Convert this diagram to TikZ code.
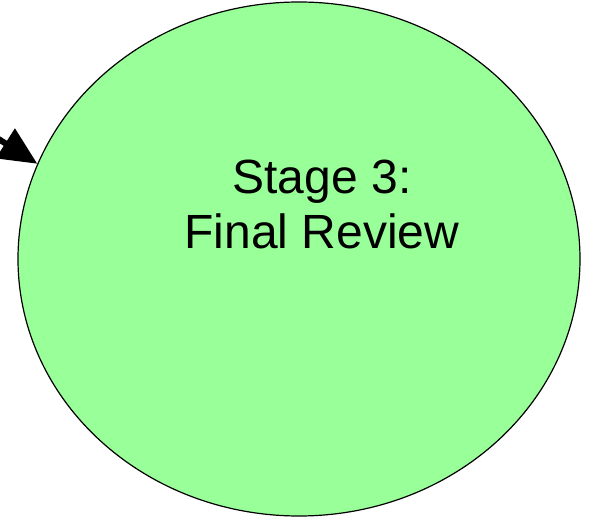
\documentclass[tikz,border=0pt]{standalone}
\usepackage{fontspec}
\setmainfont{Liberation Sans}
\usetikzlibrary{shapes.geometric,arrows.meta}
\definecolor{stagegreen}{RGB}{153,255,153}
\begin{document}
\begin{tikzpicture}[x=0.5pt,y=-0.5pt]
	\tikzstyle{Stage} = [ellipse, minimum width=281pt, minimum height=257pt, inner sep=0pt, draw=black, line width=0.6pt, fill=stagegreen]
	\tikzstyle{Label} = [align=center, font=\fontsize{24}{27.5}\selectfont]
	\tikzstyle{arrow} = [line width=3pt, -{Triangle[length=19pt, width=17pt]}]
	
	\useasboundingbox (0,0) rectangle (590,518);
	\node (stage3) [Stage] at (299,259) {};
	\node (stage3text) [Label] at (322,204) {Stage 3:\\ Final Review};
	
	\coordinate (from2) at (-14,131);
	\draw [arrow] (from2) -- (stage3.160);
\end{tikzpicture}
\end{document}
